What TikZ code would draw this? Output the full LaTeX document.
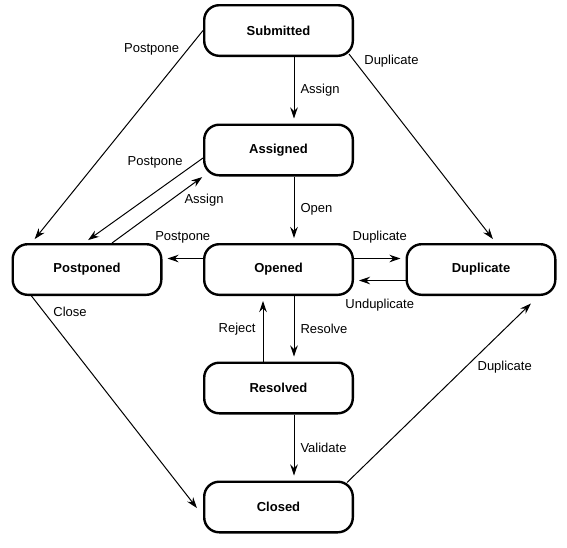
\documentclass[tikz,border=0pt]{standalone}
\usepackage{fontspec}
\setmainfont{Liberation Sans}
\usetikzlibrary{arrows.meta}

\tikzset{
  state/.style={draw,line width=2.4pt,rounded corners=15pt,
    minimum width=148.6pt,minimum height=50.6pt,
    font=\fontsize{13}{15}\selectfont\bfseries},
  trans/.style={-{Stealth[length=11pt,width=7.5pt]},line width=1pt,shorten >=5pt},
  lbl/.style={inner sep=2pt,font=\fontsize{13}{15}\selectfont}
}

\begin{document}
\begin{tikzpicture}[x=1pt,y=1pt]
  \useasboundingbox (0,0) rectangle (567,-547);
  % states
  \node[state] (sub)  at (278.5,-30.5) {Submitted};
  \node[state] (asg)  at (278.5,-150)  {Assigned};
  \node[state] (opn)  at (278.5,-269.5) {Opened};
  \node[state] (res)  at (278.5,-388)  {Resolved};
  \node[state] (clo)  at (278.5,-507)  {Closed};
  \node[state] (post) at (87,-269.5)   {Postponed};
  \node[state] (dup)  at (481,-269.5)  {Duplicate};
  % main line
  \draw[trans] ([xshift=15.5pt]sub.south) -- node[lbl,right=4pt] {Assign} ([xshift=15.5pt]asg.north);
  \draw[trans] ([xshift=15.5pt]asg.south) -- node[lbl,right=4pt] {Open} ([xshift=15.5pt]opn.north);
  \draw[trans] ([xshift=15.5pt]opn.south) -- node[lbl,right=4pt] {Resolve} ([xshift=15.5pt]res.north);
  \draw[trans] ([xshift=15.5pt]res.south) -- node[lbl,right=4pt] {Validate} ([xshift=15.5pt]clo.north);
  \draw[trans] ([xshift=-15.5pt]res.north) -- node[lbl,left=5pt] {Reject} ([xshift=-15.5pt]opn.south);
  % sideways
  \draw[trans] ([yshift=11pt]opn.east) -- node[lbl,above=13pt] {Duplicate} ([yshift=11pt]dup.west);
  \draw[trans] ([yshift=-11pt]dup.west) -- node[lbl,below=16pt] {Unduplicate} ([yshift=-11pt]opn.east);
  \draw[trans] ([yshift=11pt]opn.west) -- node[lbl,above=13pt] {Postpone} ([yshift=11pt]post.east);
  % diagonals
  \draw[trans] (sub.west) -- node[lbl,pos=0.09,left=6pt] {Postpone} ([xshift=20pt]post.north west);
  \draw[trans] ([yshift=-8pt]asg.west) -- node[lbl,pos=0.05,left=12pt] {Postpone} ([xshift=-3pt]post.north);
  \draw[trans,shorten >=1pt] ([xshift=25pt]post.north) -- node[lbl,pos=0.77,anchor=north west] {Assign} (asg.south west);
  \draw[trans] ([xshift=-5pt,yshift=3pt]sub.south east) -- node[lbl,pos=0.04,right=7pt] {Duplicate} ([xshift=15pt]dup.north);
  \draw[trans] ([xshift=20pt]post.south west) -- node[lbl,pos=0.074,right=7pt] {Close} ([xshift=-3pt,yshift=-5pt]clo.west);
  \draw[trans] ([xshift=-7pt,yshift=-2pt]clo.north east) -- node[lbl,pos=0.63,right=10pt] {Duplicate} ([xshift=-22pt,yshift=-4pt]dup.south east);
\end{tikzpicture}
\end{document}
